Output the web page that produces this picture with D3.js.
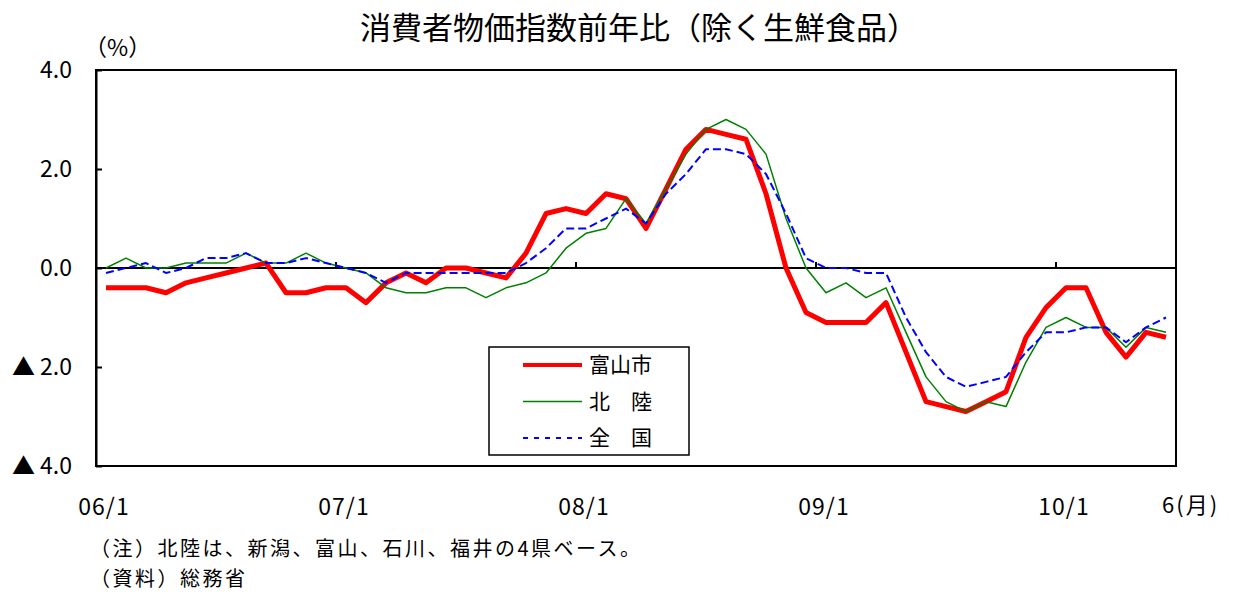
<!DOCTYPE html>
<html>
<head>
<meta charset="utf-8">
<script src="https://cdn.jsdelivr.net/npm/d3@7"></script>
<style>
  body { margin: 0; background: #fff; }
  svg { display: block; font-family: "Noto Sans CJK JP", "Noto Sans", sans-serif; }
</style>
</head>
<body>
<svg class="cpi-chart"></svg>
<script>
// months 06/1 .. 10/6
var years = ["06", "07", "08", "09", "10"];
var lastMonth = 6;
var tickLabels = ["06/1", "07/1", "08/1", "09/1", "10/1"];
var endLabel = "6(月)";
var yTicks = [4, 2, 0, -2, -4];

var seriesNames = ["富山市", "北　陸", "全　国"];

var toyama = [-0.4, -0.4, -0.4, -0.5, -0.3, -0.2, -0.1, 0.0, 0.1, -0.5, -0.5, -0.4,
  -0.4, -0.7, -0.3, -0.1, -0.3, 0.0, 0.0, -0.1, -0.2, 0.3, 1.1, 1.2,
  1.1, 1.5, 1.4, 0.8, 1.6, 2.4, 2.8, 2.7, 2.6, 1.5, 0.0, -0.9,
  -1.1, -1.1, -1.1, -0.7, -1.7, -2.7, -2.8, -2.9, -2.7, -2.5, -1.4, -0.8,
  -0.4, -0.4, -1.3, -1.8, -1.3, -1.4];

var hokuriku = [0.0, 0.2, 0.0, 0.0, 0.1, 0.1, 0.1, 0.3, 0.1, 0.1, 0.3, 0.1,
  0.0, -0.1, -0.4, -0.5, -0.5, -0.4, -0.4, -0.6, -0.4, -0.3, -0.1, 0.4,
  0.7, 0.8, 1.4, 0.9, 1.6, 2.3, 2.8, 3.0, 2.8, 2.3, 1.0, 0.0,
  -0.5, -0.3, -0.6, -0.4, -1.3, -2.2, -2.7, -2.9, -2.7, -2.8, -1.9, -1.2,
  -1.0, -1.2, -1.2, -1.6, -1.2, -1.3];

var zenkoku = [-0.1, 0.0, 0.1, -0.1, 0.0, 0.2, 0.2, 0.3, 0.1, 0.1, 0.2, 0.1,
  0.0, -0.1, -0.3, -0.1, -0.1, -0.1, -0.1, -0.1, -0.1, 0.1, 0.4, 0.8,
  0.8, 1.0, 1.2, 0.9, 1.5, 1.9, 2.4, 2.4, 2.3, 1.9, 1.1, 0.2,
  0.0, 0.0, -0.1, -0.1, -1.0, -1.7, -2.2, -2.4, -2.3, -2.2, -1.7, -1.3,
  -1.3, -1.2, -1.2, -1.5, -1.2, -1.0];

var months = [];
years.forEach(function(yy, k) {
  var n = (k === years.length - 1) ? lastMonth : 12;
  for (var m = 1; m <= n; m++) months.push(yy + "/" + m);
});

drawCpi();

function drawCpi() {
  var margin = {top: 70, right: 57, bottom: 126, left: 96};
  var width = 1080;
  var height = 396;

  var x = d3.scaleBand().domain(months).range([0, width]);
  var y = d3.scaleLinear().domain([-4, 4]).range([height, 0]);
  var half = x.bandwidth() / 2;

  var svg = d3.select(".cpi-chart")
    .attr("width", 1233)
    .attr("height", 592);

  svg.append("text")
    .attr("x", 639)
    .attr("y", 28)
    .attr("dy", "0.35em")
    .attr("text-anchor", "middle")
    .style("font-size", "31px")
    .text("消費者物価指数前年比（除く生鮮食品）");

  var chart = svg.append("g")
    .attr("transform", "translate(" + margin.left + "," + margin.top + ")");

  // y axis: ticks inside, labels with ▲ for negatives
  var yAxis = d3.axisLeft(y)
    .tickValues(yTicks)
    .tickSizeInner(-6)
    .tickSizeOuter(0)
    .tickPadding(24)
    .tickFormat(function(d) { return d < 0 ? "▲ " + (-d).toFixed(1) : d.toFixed(1); });

  var ya = chart.append("g").call(yAxis);
  ya.select(".domain").attr("stroke", "#000").attr("stroke-width", 2);
  ya.selectAll(".tick line").attr("stroke", "#000").attr("stroke-width", 2);
  ya.selectAll(".tick text")
    .attr("fill", "#000")
    .style("font-size", "23px")
    .style("font-family", "\"Noto Sans CJK JP\", sans-serif");

  chart.append("text")
    .attr("x", -12)
    .attr("y", -22)
    .attr("dy", "0.35em")
    .style("font-size", "23px")
    .text("（%）");

  // frame
  chart.append("rect")
    .attr("width", width)
    .attr("height", height)
    .attr("fill", "none")
    .attr("stroke", "#000")
    .attr("stroke-width", 2);

  // zero line with year ticks
  chart.append("line")
    .attr("x1", 0)
    .attr("x2", width)
    .attr("y1", y(0))
    .attr("y2", y(0))
    .attr("stroke", "#000")
    .attr("stroke-width", 2);

  chart.selectAll(".year-tick")
    .data(tickLabels.slice(1))
    .enter().append("line")
    .attr("class", "year-tick")
    .attr("x1", function(d) { return x(d); })
    .attr("x2", function(d) { return x(d); })
    .attr("y1", y(0))
    .attr("y2", y(0) - 6)
    .attr("stroke", "#000")
    .attr("stroke-width", 2);

  // x labels under the frame
  chart.selectAll(".xlabel")
    .data(tickLabels)
    .enter().append("text")
    .attr("class", "xlabel")
    .attr("x", function(d) { return x(d) + half - 2; })
    .attr("y", height + 41)
    .attr("dy", "0.35em")
    .attr("text-anchor", "middle")
    .style("font-size", "23px")
    .style("letter-spacing", "1px")
    .text(function(d) { return d; });

  chart.append("text")
    .attr("x", x(months[months.length - 1]) + half - 4)
    .attr("y", height + 39)
    .attr("dy", "0.35em")
    .style("font-size", "22px")
    .style("letter-spacing", "2px")
    .text(endLabel);

  // series
  var series = [
    {name: seriesNames[0], values: toyama, colour: "#ff0000", w: 5, dash: null, legendDash: null},
    {name: seriesNames[1], values: hokuriku, colour: "#008000", w: 1.5, dash: null, legendDash: null},
    {name: seriesNames[2], values: zenkoku, colour: "#0000ff", w: 2, dash: "8,4", legendDash: "5,6"}
  ];

  var line = d3.line()
    .x(function(d, i) { return x(months[i]) + half; })
    .y(function(d) { return y(d); });

  chart.selectAll(".series")
    .data(series)
    .enter().append("path")
    .attr("class", "series")
    .attr("d", function(d) { return line(d.values); })
    .attr("fill", "none")
    .attr("stroke", function(d) { return d.colour; })
    .attr("stroke-width", function(d) { return d.w; })
    .attr("stroke-dasharray", function(d) { return d.dash; })
    .attr("stroke-linejoin", "round");

  // legend
  var legend = chart.append("g")
    .attr("transform", "translate(" + (489 - margin.left) + "," + (347 - margin.top) + ")");

  legend.append("rect")
    .attr("width", 200)
    .attr("height", 108)
    .attr("fill", "#fff")
    .attr("stroke", "#000")
    .attr("stroke-width", 1.5);

  var item = legend.selectAll(".legend")
    .data(series)
    .enter().append("g")
    .attr("class", "legend")
    .attr("transform", function(d, i) { return "translate(0," + (18 + i * 36.5) + ")"; });

  item.append("line")
    .attr("x1", 34)
    .attr("x2", 93)
    .attr("stroke", function(d) { return d.colour; })
    .attr("stroke-width", function(d) { return d.w === 5 ? 4 : d.w; })
    .attr("stroke-dasharray", function(d) { return d.legendDash; });

  item.append("text")
    .attr("x", 100)
    .attr("dy", "0.35em")
    .style("font-size", "21px")
    .text(function(d) { return d.name; });

  // notes
  svg.append("text")
    .attr("x", 90)
    .attr("y", 549)
    .attr("dy", "0.35em")
    .style("font-size", "20px")
    .style("letter-spacing", "2.5px")
    .text("（注）北陸は、新潟、富山、石川、福井の4県ベース。");

  svg.append("text")
    .attr("x", 90)
    .attr("y", 579)
    .attr("dy", "0.35em")
    .style("font-size", "20px")
    .style("letter-spacing", "2.5px")
    .text("（資料）総務省");
}
</script>
</body>
</html>
